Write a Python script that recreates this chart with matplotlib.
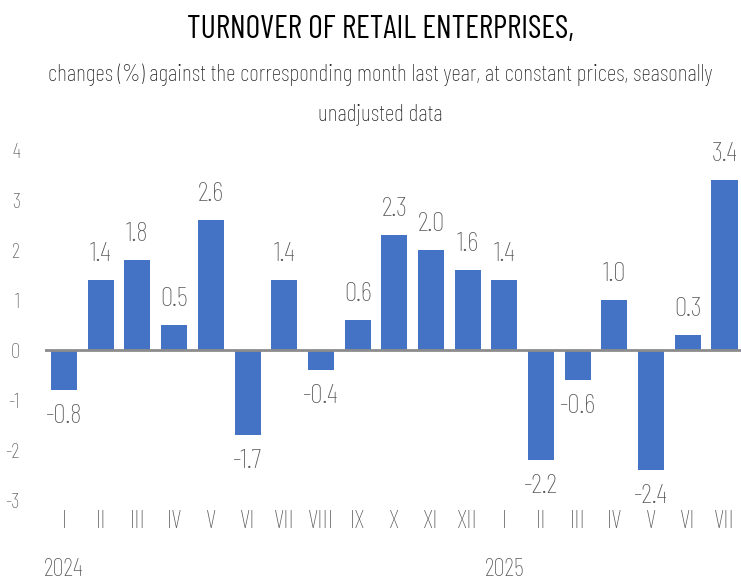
import numpy as np
import matplotlib
matplotlib.use('Agg')
from matplotlib import pyplot as plt

# data
months = ['I', 'II', 'III', 'IV', 'V', 'VI', 'VII', 'VIII', 'IX', 'X', 'XI', 'XII',
          'I', 'II', 'III', 'IV', 'V', 'VI', 'VII']
values = [-0.8, 1.4, 1.8, 0.5, 2.6, -1.7, 1.4, -0.4, 0.6, 2.3, 2.0, 1.6,
          1.4, -2.2, -0.6, 1.0, -2.4, 0.3, 3.4]
years = ['2024', '2025']
year_pos = [0, 12]
yticks = [-3, -2, -1, 0, 1, 2, 3, 4]

plt.rcParams['font.family'] = ['Barlow Condensed', 'DejaVu Sans']

bar_color = '#4472C4'
txt_color = '#595959'

fig = plt.figure(figsize=(7.41, 5.81), dpi=100)
ax = fig.add_axes([45 / 741, 1 - 500 / 581, 1 - 45 / 741, 350 / 581])

x = np.arange(len(values))
ax.bar(x, values, width=0.71, color=bar_color, zorder=2)

for xi, v in zip(x, values):
    off = 10 if v >= 0 else -10
    ax.annotate('{:.1f}'.format(v), (xi, v), xytext=(0, off), textcoords='offset points',
                ha='center', va='bottom' if v >= 0 else 'top', fontsize=20,
                color=txt_color, fontweight='light')

ax.axhline(0, color='#8c8c8c', linewidth=2, zorder=3)
ax.set_xlim(-0.52, 18.45)
ax.set_ylim(-3, 4)
ax.set_yticks(yticks)
ax.set_yticklabels([str(t) for t in yticks], fontsize=15, color=txt_color, fontweight='light')
ax.tick_params(axis='y', length=0, pad=18)
ax.set_xticks(x)
ax.set_xticklabels(months, fontsize=18, color=txt_color, fontweight='light')
ax.tick_params(axis='x', length=0, pad=7)
for s in ax.spines.values():
    s.set_visible(False)

for yp, yr in zip(year_pos, years):
    ax.annotate(yr, (yp, 12 / 581), xycoords=('data', 'figure fraction'),
                ha='center', va='center', fontsize=18, color=txt_color, fontweight='light')

fig.text(380 / 741, 1 - 30 / 581, 'TURNOVER OF RETAIL ENTERPRISES,', ha='center', va='center',
         fontsize=23, color='black')
fig.text(380 / 741, 1 - 75 / 581, 'changes (%) against the corresponding month last year, at constant prices, seasonally',
         ha='center', va='center', fontsize=17, color='#222222', fontweight='light')
fig.text(380 / 741, 1 - 115 / 581, 'unadjusted data', ha='center', va='center', fontsize=17,
         color='#222222', fontweight='light')

fig.savefig('out.png', dpi=100)
